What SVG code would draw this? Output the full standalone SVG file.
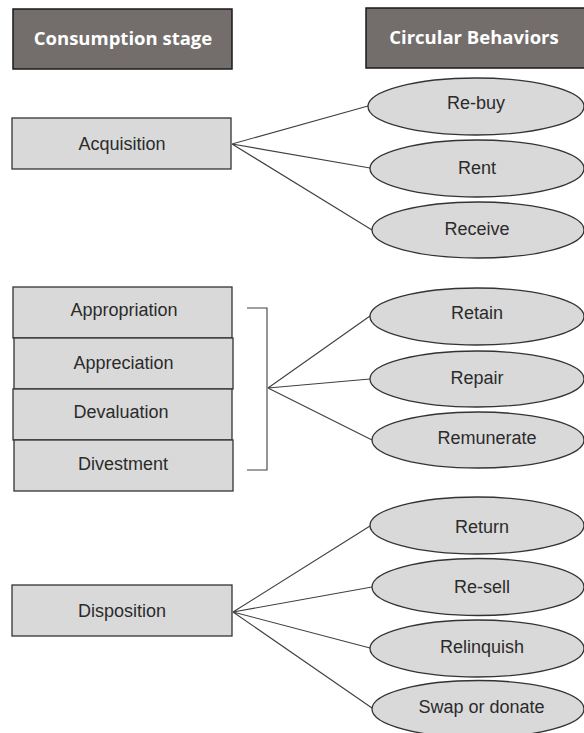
<svg xmlns="http://www.w3.org/2000/svg" width="584" height="733" viewBox="0 0 584 733">
<style>
.hdr{fill:#736e6b;stroke:#1a1a1a;stroke-width:1.5}
.ht{font-family:"Open Sans","Liberation Sans",sans-serif;font-weight:bold;font-size:18.5px;fill:#ffffff;text-anchor:middle}
.box{fill:#d9d9d9;stroke:#333333;stroke-width:1.3}
.ell{fill:#d9d9d9;stroke:#333333;stroke-width:1.3}
.t{font-family:"Liberation Sans","Open Sans",sans-serif;font-size:18px;fill:#2b2b2b;text-anchor:middle}
.c{stroke:#404040;stroke-width:1.1;fill:none}
</style>
<rect width="584" height="733" fill="#ffffff"/>
<g id="hdr-consumption"><rect class="hdr" x="13" y="9" width="219" height="60"/><text class="ht" x="123" y="45">Consumption stage</text></g>
<g id="hdr-circular"><rect class="hdr" x="366" y="8" width="222" height="60"/><text class="ht" x="474" y="44">Circular Behaviors</text></g>

<g id="connectors">
<path class="c" d="M232 144L368 106M232 144L370 168M232 144L372 230"/>
<path class="c" d="M247 308H267V470H247"/>
<path class="c" d="M268 388L370 316M268 388L370 379M268 388L372 440"/>
<path class="c" d="M233 612L370 526M233 612L372 587M233 612L370 648M233 612L372 708"/>
</g>

<g id="acquisition"><rect class="box" x="12" y="118" width="219" height="51"/><text class="t" x="122" y="150">Acquisition</text></g>
<g id="appropriation"><rect class="box" x="13" y="287" width="219" height="51"/><text class="t" x="124" y="316">Appropriation</text></g>
<g id="appreciation"><rect class="box" x="14" y="338" width="219" height="51"/><text class="t" x="123.5" y="369">Appreciation</text></g>
<g id="devaluation"><rect class="box" x="13" y="389" width="219" height="51"/><text class="t" x="121" y="418">Devaluation</text></g>
<g id="divestment"><rect class="box" x="14" y="440" width="219" height="51"/><text class="t" x="123" y="470">Divestment</text></g>
<g id="disposition"><rect class="box" x="12" y="585" width="220" height="51"/><text class="t" x="122" y="617">Disposition</text></g>

<g id="rebuy"><ellipse class="ell" cx="476" cy="106.5" rx="108" ry="28.5"/><text class="t" x="476" y="109">Re-buy</text></g>
<g id="rent"><ellipse class="ell" cx="477" cy="168.5" rx="107" ry="28.5"/><text class="t" x="477" y="174">Rent</text></g>
<g id="receive"><ellipse class="ell" cx="478" cy="230" rx="106" ry="28"/><text class="t" x="477" y="235">Receive</text></g>

<g id="retain"><ellipse class="ell" cx="477" cy="316.5" rx="107" ry="28.5"/><text class="t" x="477" y="319">Retain</text></g>
<g id="repair"><ellipse class="ell" cx="477" cy="379" rx="107" ry="28"/><text class="t" x="477" y="384">Repair</text></g>
<g id="remunerate"><ellipse class="ell" cx="478" cy="440" rx="106" ry="28"/><text class="t" x="487" y="443.5">Remunerate</text></g>

<g id="return"><ellipse class="ell" cx="477" cy="525.5" rx="107" ry="28.5"/><text class="t" x="482" y="532.5">Return</text></g>
<g id="resell"><ellipse class="ell" cx="478" cy="587" rx="106" ry="28.5"/><text class="t" x="482" y="593">Re-sell</text></g>
<g id="relinquish"><ellipse class="ell" cx="477" cy="648.5" rx="107" ry="28.5"/><text class="t" x="482" y="653">Relinquish</text></g>
<g id="swap"><ellipse class="ell" cx="478" cy="709" rx="106" ry="28.5"/><text class="t" x="481.5" y="712.5">Swap or donate</text></g>
</svg>
